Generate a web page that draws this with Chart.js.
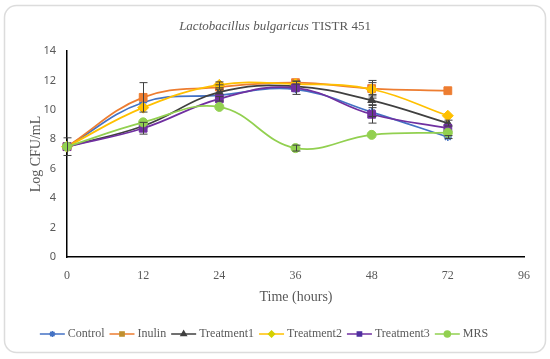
<!DOCTYPE html>
<html>
<head>
<meta charset="utf-8">
<script src="https://cdn.jsdelivr.net/npm/chart.js@4"></script>
<style>
  html, body { margin: 0; padding: 0; background: #fff; }
</style>
</head>
<body>
<canvas id="myChart" width="550" height="359"></canvas>
<script>
// time points (hours), the last one has no data
const hours = ["0", "12", "24", "36", "48", "72", "96"];

const control    = [7.5, 10.5, 11.0, 11.4, 9.85, 8.15, null];
const inulin     = [7.5, 10.85, 11.55, 11.85, 11.45, 11.3, null];
const treatment1 = [7.5, 8.9, 11.2, 11.6, 10.65, 9.1, null];
const treatment2 = [7.5, 10.15, 11.7, 11.75, 11.4, 9.6, null];
const treatment3 = [7.5, 8.75, 10.75, 11.5, 9.7, 8.75, null];
const mrs        = [7.5, 9.15, 10.2, 7.4, 8.3, 8.45, null];

// standard deviations (null = too small to show)
const controlErr    = [0.6, null, null, null, 0.3, 0.1, null];
const inulinErr     = [null, 1.0, 0.15, 0.1, 0.4, null, null];
const treatment1Err = [null, null, null, null, 0.3, 0.2, null];
const treatment2Err = [null, null, 0.2, null, 0.6, null, null];
const treatment3Err = [null, 0.4, 0.15, 0.45, 0.6, null, null];
const mrsErr        = [null, null, null, 0.2, null, null, null];

const serif = "'Liberation Serif', 'DejaVu Serif', serif";
const gray = "#595959";

function series(label, data, errors, color, style, radius, legendFill) {
  return {
    label: label,
    data: data,
    errors: errors,
    borderColor: color,
    backgroundColor: color,
    legendFill: legendFill || color,
    borderWidth: 1.75,
    pointStyle: style,
    pointRadius: radius,
    pointHoverRadius: radius,
    pointBorderWidth: style === "star" ? 1.5 : 1,
    tension: 0.4,
    fill: false,
    spanGaps: false,
  };
}

const datasets = [
  series("Control", control, controlErr, "#4472C4", "star", 4),
  series("Inulin", inulin, inulinErr, "#ED7D31", "rect", 5.5, "#C0902F"),
  series("Treatment1", treatment1, treatment1Err, "#404040", "triangle", 4.5),
  series("Treatment2", treatment2, treatment2Err, "#FFC000", "rectRot", 5.5, "#D4D000"),
  series("Treatment3", treatment3, treatment3Err, "#7030A0", "rect", 5.5, "#5030A0"),
  series("MRS", mrs, mrsErr, "#92D050", "circle", 4.5),
];
// later series drawn on top, like the spreadsheet does
datasets.forEach((ds, i) => { ds.order = datasets.length - i; });

const frame = {
  id: "frame",
  beforeDraw(chart) {
    const ctx = chart.ctx;
    ctx.save();
    ctx.fillStyle = "#fff";
    ctx.fillRect(0, 0, chart.width, chart.height);
    ctx.strokeStyle = "#dcdcdc";
    ctx.lineWidth = 1.5;
    ctx.beginPath();
    ctx.roundRect(4.5, 5.5, 541, 347, 12);
    ctx.stroke();
    ctx.restore();
  }
};

const errorBars = {
  id: "errorBars",
  afterDatasetsDraw(chart) {
    const ctx = chart.ctx;
    const y = chart.scales.y;
    ctx.save();
    ctx.strokeStyle = "#404040";
    ctx.lineWidth = 1;
    chart.data.datasets.forEach((ds, i) => {
      const meta = chart.getDatasetMeta(i);
      ds.errors.forEach((e, j) => {
        if (e == null || ds.data[j] == null) return;
        const px = Math.round(meta.data[j].x) + 0.5;
        const top = y.getPixelForValue(ds.data[j] + e);
        const bot = y.getPixelForValue(ds.data[j] - e);
        ctx.beginPath();
        ctx.moveTo(px, top); ctx.lineTo(px, bot);
        ctx.moveTo(px - 4, top); ctx.lineTo(px + 4, top);
        ctx.moveTo(px - 4, bot); ctx.lineTo(px + 4, bot);
        ctx.stroke();
      });
    });
    ctx.restore();
  }
};

const texts = {
  id: "texts",
  afterDraw(chart) {
    const ctx = chart.ctx;
    ctx.save();
    ctx.fillStyle = gray;
    ctx.textBaseline = "middle";

    // title: italic species name + plain strain code
    const t1 = "Lactobacillus bulgaricus";
    const t2 = " TISTR 451";
    ctx.font = "italic 13px " + serif;
    const w1 = ctx.measureText(t1).width;
    ctx.font = "13px " + serif;
    const w2 = ctx.measureText(t2).width;
    let tx = 275 - (w1 + w2) / 2;
    ctx.textAlign = "left";
    ctx.font = "italic 13px " + serif;
    ctx.fillText(t1, tx, 27);
    ctx.font = "13px " + serif;
    ctx.fillText(t2, tx + w1, 27);

    // axis titles
    ctx.font = "14px " + serif;
    ctx.textAlign = "center";
    ctx.fillText("Time (hours)", 296, 297);
    ctx.save();
    ctx.translate(36, 154);
    ctx.rotate(-Math.PI / 2);
    ctx.fillText("Log CFU/mL", 0, 0);
    ctx.restore();

    // legend: short line with marker, then label
    ctx.font = "12px " + serif;
    const icon = 25, gapIcon = 3, gapItem = 5;
    const dsList = chart.data.datasets;
    let total = 0;
    dsList.forEach((ds, i) => {
      total += icon + gapIcon + ctx.measureText(ds.label).width + (i < dsList.length - 1 ? gapItem : 0);
    });
    let x = 264 - total / 2;
    const ly = 334;
    dsList.forEach((ds) => {
      ctx.strokeStyle = ds.borderColor;
      ctx.lineWidth = 1.5;
      ctx.beginPath();
      ctx.moveTo(x, ly); ctx.lineTo(x + icon, ly);
      ctx.stroke();
      ctx.fillStyle = ds.legendFill;
      ctx.strokeStyle = ds.pointStyle === "star" ? ds.borderColor : ds.legendFill;
      Chart.helpers.drawPoint(ctx, {
        pointStyle: ds.pointStyle,
        radius: 3,
        rotation: 0,
        borderWidth: 1
      }, x + icon / 2, ly);
      x += icon + gapIcon;
      ctx.fillStyle = gray;
      ctx.textAlign = "left";
      ctx.fillText(ds.label, x, ly);
      x += ctx.measureText(ds.label).width + gapItem;
    });
    ctx.restore();
  }
};

const ctx = document.getElementById("myChart").getContext("2d");
new Chart(ctx, {
  type: "line",
  data: { labels: hours, datasets: datasets },
  options: {
    responsive: false,
    animation: false,
    devicePixelRatio: 1,
    layout: { padding: { left: 27, right: 26, top: 51, bottom: 72 } },
    plugins: {
      legend: { display: false },
      title: { display: false },
      tooltip: { enabled: false }
    },
    scales: {
      x: {
        type: "category",
        offset: false,
        grid: { display: false, drawTicks: false },
        border: { display: true, color: "#000", width: 1.5 },
        ticks: { color: gray, font: { family: serif, size: 12 }, padding: 12, maxRotation: 0, autoSkip: false },
        afterFit(s) { s.height = 30; }
      },
      y: {
        min: 0,
        max: 14,
        grid: { display: false, drawTicks: false },
        border: { display: true, color: "#000", width: 1.5 },
        ticks: { stepSize: 2, color: gray, font: { family: "'Noto Sans', sans-serif", size: 11 }, padding: 11 },
        afterFit(s) { s.width = 40; }
      }
    }
  },
  plugins: [frame, errorBars, texts]
});
</script>
</body>
</html>
